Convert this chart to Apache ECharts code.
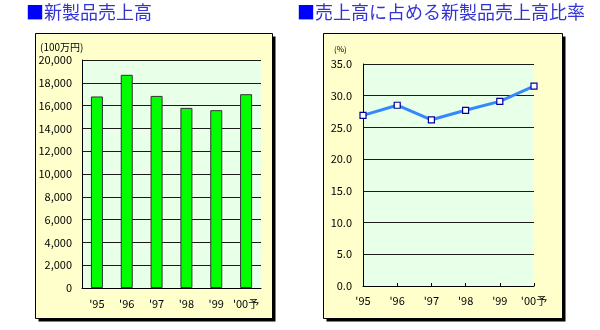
<!DOCTYPE html>
<html>
<head>
<meta charset="utf-8">
<script src="https://cdn.jsdelivr.net/npm/echarts@6/dist/echarts.min.js"></script>
<style>
  html, body { margin: 0; padding: 0; background: #ffffff; }
  #chart { width: 600px; height: 330px; }
</style>
</head>
<body>
<div id="chart"></div>
<script>
// Fiscal years (the last one is a forecast)
const years = ["'95", "'96", "'97", "'98", "'99", "'00予"];
// New-product sales, in millions of yen (x100)
const salesValues = [16800, 18700, 16850, 15800, 15600, 17000];
// Share of new-product sales in total sales, %
const ratioValues = [26.9, 28.5, 26.2, 27.7, 29.1, 31.5];

const salesTitle = '新製品売上高';
const ratioTitle = '売上高に占める新製品売上高比率';
const salesUnit = '(100万円)';
const ratioUnit = '(%)';

const FONT = '"Noto Sans CJK JP", "Noto Sans", sans-serif';
const PANEL = '#FFFFCC';
const PLOT = '#E8FFE8';
const GRIDLINE = '#1a1a1a';

const chart = echarts.init(document.getElementById('chart'), null, { renderer: 'canvas' });

function panel(x, y, w, h) {
  return [
    { type: 'rect', z: -2, shape: { x: x + 3, y: y + 3, width: w, height: h }, style: { fill: '#000' } },
    { type: 'rect', z: -1, shape: { x: x, y: y, width: w, height: h }, style: { fill: PANEL, stroke: '#000', lineWidth: 1 } }
  ];
}

function titleText(x, y, text) {
  return {
    type: 'text', x: x, y: y, z: 5,
    style: {
      text: '{sq|■}{t|' + text + '}',
      rich: {
        sq: { fill: '#0000FF', fontSize: 18, fontFamily: FONT },
        t: { fill: '#3434D4', fontSize: 18, fontFamily: FONT }
      },
      verticalAlign: 'middle'
    }
  };
}

const axisLabelStyle = { color: '#000', fontSize: 11, fontFamily: FONT };

chart.setOption({
  animation: false,
  backgroundColor: '#ffffff',
  graphic: [
    ...panel(35.5, 33.5, 237, 285),
    ...panel(323.5, 33.5, 239, 285),
    titleText(26, 12, salesTitle),
    titleText(297, 12, ratioTitle),
    { type: 'text', x: 40, y: 47, style: { text: salesUnit, fill: '#000', fontSize: 10, fontFamily: FONT, verticalAlign: 'middle' } },
    { type: 'text', x: 334, y: 49, style: { text: ratioUnit, fill: '#000', fontSize: 8, fontFamily: FONT, verticalAlign: 'middle' } }
  ],
  grid: [
    { left: 82, right: 339, top: 60, bottom: 42, show: true, backgroundColor: PLOT, borderWidth: 0 },
    { left: 363, right: 66, top: 64, bottom: 44, show: true, backgroundColor: PLOT, borderWidth: 0 }
  ],
  xAxis: [
    {
      type: 'category', gridIndex: 0, data: years, boundaryGap: true,
      axisLine: { lineStyle: { color: '#000', width: 1 } },
      axisTick: { inside: true, length: 3, interval: 0, lineStyle: { color: '#000' } },
      axisLabel: { ...axisLabelStyle, margin: 10, interval: 0 }
    },
    {
      type: 'category', gridIndex: 1, data: years, boundaryGap: false,
      axisLine: { lineStyle: { color: '#000', width: 1 } },
      axisTick: { inside: true, length: 3, interval: 0, lineStyle: { color: '#000' } },
      axisLabel: { ...axisLabelStyle, margin: 9, interval: 0 }
    }
  ],
  yAxis: [
    {
      type: 'value', gridIndex: 0, min: 0, max: 20000, interval: 2000,
      axisLine: { show: true, lineStyle: { color: '#000' } },
      axisTick: { show: false },
      axisLabel: { ...axisLabelStyle, margin: 10, formatter: v => v.toLocaleString('en-US') },
      splitLine: { show: true, lineStyle: { color: GRIDLINE, width: 1 } }
    },
    {
      type: 'value', gridIndex: 1, min: 0, max: 35, interval: 5,
      axisLine: { show: true, lineStyle: { color: '#000' } },
      axisTick: { show: false },
      axisLabel: { ...axisLabelStyle, margin: 11, formatter: v => v.toFixed(1) },
      splitLine: { show: true, lineStyle: { color: GRIDLINE, width: 1 } }
    }
  ],
  series: [
    {
      type: 'bar', xAxisIndex: 0, yAxisIndex: 0, data: salesValues,
      barWidth: 12,
      itemStyle: { color: '#00FF00', borderColor: '#333', borderWidth: 1 }
    },
    {
      type: 'line', xAxisIndex: 1, yAxisIndex: 1, data: ratioValues,
      lineStyle: { color: '#3388FF', width: 3 },
      symbol: 'rect', symbolSize: 6,
      itemStyle: { color: '#ffffff', borderColor: '#000099', borderWidth: 1.2 }
    }
  ]
});
</script>
</body>
</html>
